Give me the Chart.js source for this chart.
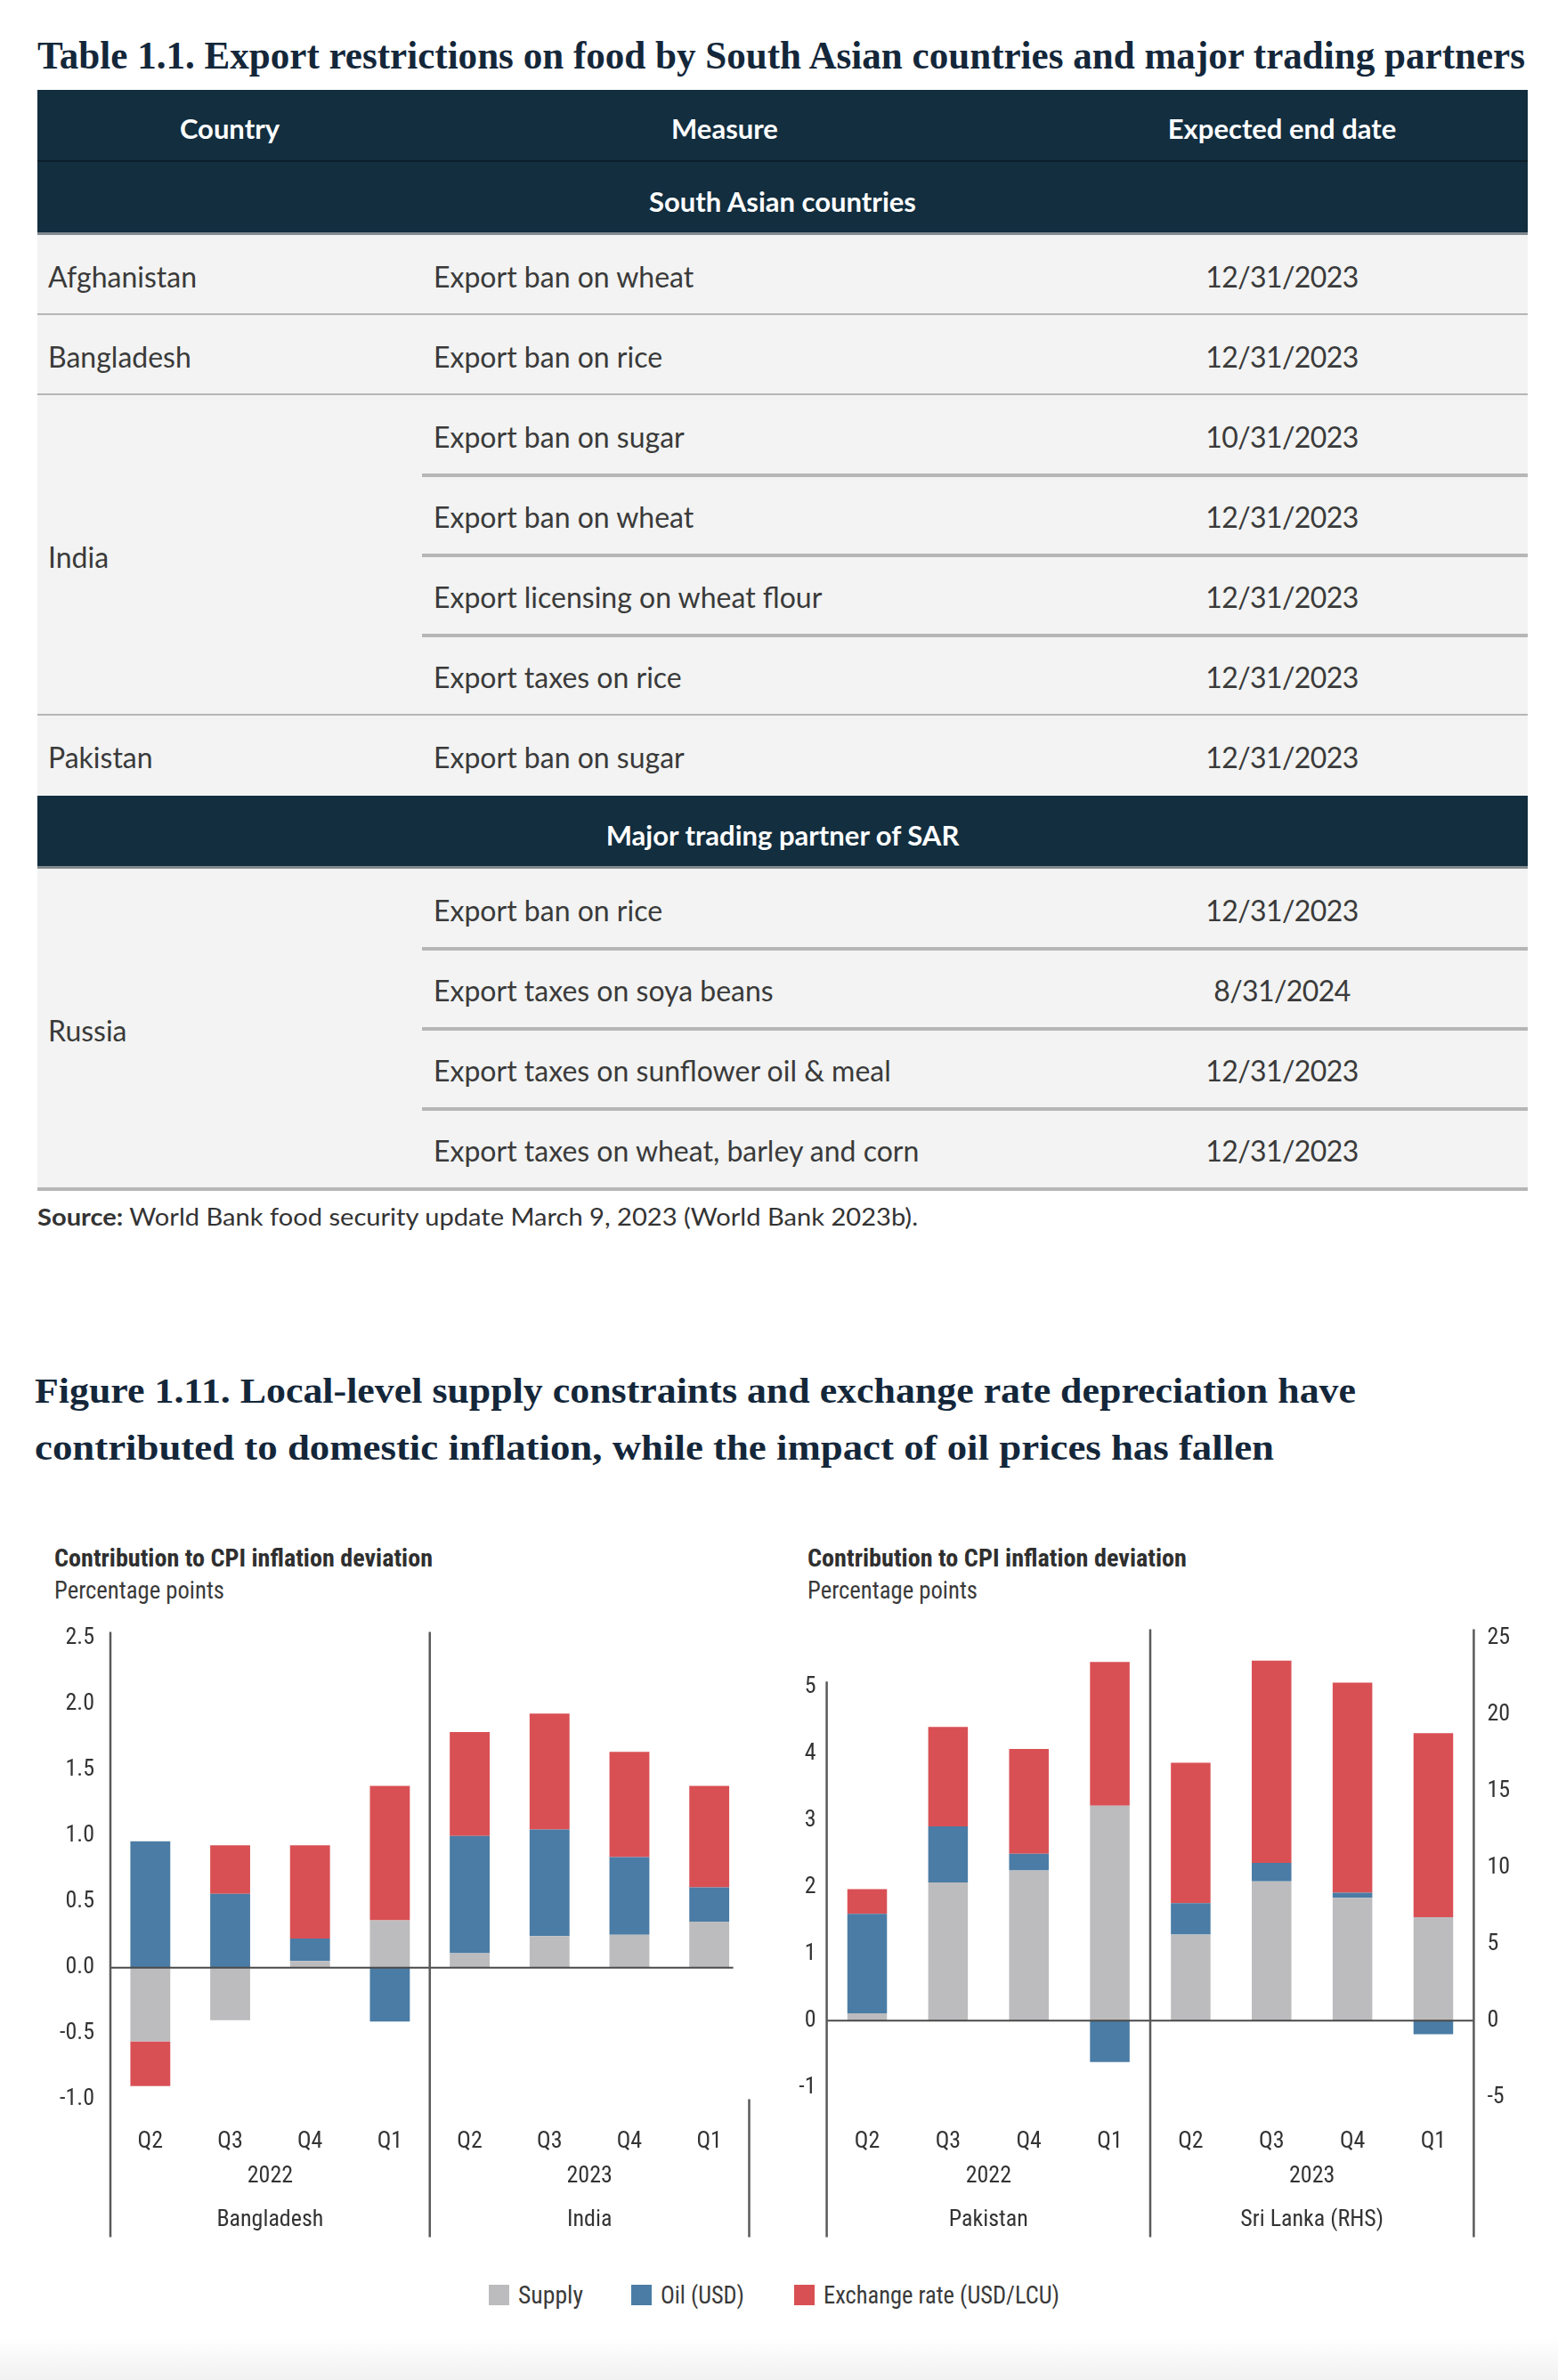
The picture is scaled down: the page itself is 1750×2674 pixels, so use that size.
<!DOCTYPE html>
<html>
<head>
<meta charset="utf-8">
<script src="https://cdn.jsdelivr.net/npm/chart.js@4.4.0/dist/chart.umd.min.js"></script>
<style>
  html, body { margin: 0; padding: 0; background: #fff; }
  body { width: 1750px; height: 2674px; position: relative; overflow: hidden; font-family: Lato, 'Noto Sans', sans-serif; color: #3a3a3a; }
  .abs { position: absolute; white-space: nowrap; }
  .fit { display: inline-block; transform-origin: 0 50%; }
  .serif { font-family: 'Liberation Serif', 'DejaVu Serif', serif; font-weight: 700; color: #14273a; line-height: 1; }
  .box { position: absolute; }
  .cell { position: absolute; white-space: nowrap; }
  .chart-title { font-weight: 700; color: #2f2f2f; line-height: 1; }
  .chart-sub { color: #3a3a3a; line-height: 1; }
  .legend-sq { position: absolute; width: 23px; height: 23px; }
  .bottom-fade { position: absolute; left: 0; top: 2626px; width: 1750px; height: 48px; background: linear-gradient(#ffffff, #f1f1f1); }
</style>
</head>
<body>
<div class="abs serif" id="tableTitle" style="left:42px; top:41px; font-size:44px;"><span class="fit" data-w="1671">Table 1.1. Export restrictions on food by South Asian countries and major trading partners</span></div>
<div id="table"></div>
<div class="abs" id="source" style="left:42px; top:1352px; font-size:27px; line-height:30px; color:#333;"><span class="fit" data-w="989"><b>Source:</b> World Bank food security update March 9, 2023 (World Bank 2023b).</span></div>

<div class="abs serif" style="left:39px; top:1543px; font-size:40px;"><span class="fit" data-w="1484">Figure 1.11. Local-level supply constraints and exchange rate depreciation have</span></div>
<div class="abs serif" style="left:39px; top:1607px; font-size:40px;"><span class="fit" data-w="1392">contributed to domestic inflation, while the impact of oil prices has fallen</span></div>

<div class="abs chart-title" id="t1" style="left:61px; top:1737px; font-size:28px;"><span class="fit" data-w="425">Contribution to CPI inflation deviation</span></div>
<div class="abs chart-sub" id="s1" style="left:61px; top:1774px; font-size:27px;"><span class="fit" data-w="191">Percentage points</span></div>
<div class="abs chart-title" id="t2" style="left:907px; top:1737px; font-size:28px;"><span class="fit" data-w="426">Contribution to CPI inflation deviation</span></div>
<div class="abs chart-sub" id="s2" style="left:907px; top:1774px; font-size:27px;"><span class="fit" data-w="191">Percentage points</span></div>

<canvas id="leftChart" style="position:absolute; left:0; top:1800px;"></canvas>
<canvas id="rightChart" style="position:absolute; left:875px; top:1800px;"></canvas>

<div id="legend"></div>
<div class="bottom-fade"></div>

<script>
// ---- table content ----
const tableColumns = ['Country', 'Measure', 'Expected end date'];
const southAsiaBand = 'South Asian countries';
const partnerBand = 'Major trading partner of SAR';
const southAsiaRows = [
  ['Afghanistan', 'Export ban on wheat', '12/31/2023'],
  ['Bangladesh', 'Export ban on rice', '12/31/2023'],
  ['India', 'Export ban on sugar', '10/31/2023'],
  ['India', 'Export ban on wheat', '12/31/2023'],
  ['India', 'Export licensing on wheat flour', '12/31/2023'],
  ['India', 'Export taxes on rice', '12/31/2023'],
  ['Pakistan', 'Export ban on sugar', '12/31/2023']
];
const partnerRows = [
  ['Russia', 'Export ban on rice', '12/31/2023'],
  ['Russia', 'Export taxes on soya beans', '8/31/2024'],
  ['Russia', 'Export taxes on sunflower oil & meal', '12/31/2023'],
  ['Russia', 'Export taxes on wheat, barley and corn', '12/31/2023']
];

// ---- chart data ----
const quarters = ['Q2', 'Q3', 'Q4', 'Q1', 'Q2', 'Q3', 'Q4', 'Q1'];
const years = ['2022', '2023'];
const leftCountries = ['Bangladesh', 'India'];
const rightCountries = ['Pakistan', 'Sri Lanka (RHS)'];
const seriesNames = ['Supply', 'Oil (USD)', 'Exchange rate (USD/LCU)'];
const seriesColors = ['#bcbcbe', '#4a7ca5', '#d95054'];

// Bangladesh (first 4) and India (last 4), percentage points
const supplyBI = [-0.56, -0.40, 0.05, 0.36, 0.11, 0.24, 0.25, 0.35];
const oilBI    = [0.96, 0.56, 0.17, -0.41, 0.89, 0.81, 0.59, 0.26];
const fxBI     = [-0.34, 0.37, 0.71, 1.02, 0.79, 0.88, 0.80, 0.77];

// Pakistan, left axis
const supplyPK = [0.11, 2.07, 2.25, 3.22];
const oilPK    = [1.49, 0.84, 0.25, -0.62];
const fxPK     = [0.37, 1.49, 1.57, 2.15];

// Sri Lanka, right axis
const supplySL = [5.63, 9.11, 8.03, 6.77];
const oilSL    = [2.06, 1.20, 0.34, -0.89];
const fxSL     = [9.17, 13.23, 13.72, 12.03];

// ---- fonts ----
function hasFont(name) {
  const c = document.createElement('canvas').getContext('2d');
  const s = 'mmmmmmmmmmlliWQ0123456789';
  let diff = false;
  ['monospace', 'serif'].forEach(fb => {
    c.font = '40px ' + fb;
    const a = c.measureText(s).width;
    c.font = "40px '" + name + "', " + fb;
    if (Math.abs(c.measureText(s).width - a) > 0.5) diff = true;
  });
  return diff;
}
const narrowCandidates = ['Roboto Condensed', 'Liberation Sans Narrow', 'DejaVu Sans Condensed'];
const found = narrowCandidates.filter(hasFont);
const narrow = found.length ? "'" + found[0] + "'" : 'Roboto';
const tickSize = found.length ? 26 : 22;

['t1', 's1', 't2', 's2'].forEach(id => {
  document.getElementById(id).style.fontFamily = narrow + ', Roboto, sans-serif';
});

// ---- table ----
function buildTable() {
  const host = document.getElementById('table');
  const L = 42, R = 1716, measX = 474, dateC = 1440;
  const navy = '#122e3f', rowBg = '#f2f3f2', sepColor = '#b6b6b6';
  const bodyFont = 32, headFont = 31;

  function box(x, y, w, h, color) {
    const d = document.createElement('div');
    d.className = 'box';
    d.style.cssText = `left:${x}px;top:${y}px;width:${w}px;height:${h}px;background:${color};`;
    host.appendChild(d);
  }
  function text(str, x, y, h, opts) {
    const d = document.createElement('div');
    d.className = 'cell';
    d.textContent = str;
    const size = opts.size || bodyFont;
    let css = `top:${y}px;height:${h}px;line-height:${h}px;font-size:${size}px;color:${opts.color || '#3a3a3a'};`;
    if (opts.bold) css += 'font-weight:700;';
    if (opts.tight) css += 'letter-spacing:-0.6px;';
    if (opts.center) css += `left:${x - 400}px;width:800px;text-align:center;`;
    else css += `left:${x}px;`;
    d.style.cssText = css;
    host.appendChild(d);
  }

  // header
  box(L, 101, R - L, 80, navy);
  text(tableColumns[0], 258, 104, 80, { center: true, bold: true, color: '#fff', size: headFont });
  text(tableColumns[1], 814, 104, 80, { center: true, bold: true, color: '#fff', size: headFont });
  text(tableColumns[2], dateC, 104, 80, { center: true, bold: true, color: '#fff', size: headFont });
  box(L, 180, R - L, 2, '#0b1e29');

  let y = 182;
  function band(label, h) {
    box(L, y, R - L, h, navy);
    text(label, (L + R) / 2, y + 3, h, { center: true, bold: true, color: '#fff', size: headFont });
    box(L, y + h - 3, R - L, 3, '#7f898e');
    y += h;
  }
  function rows(list, tableEnd) {
    let i = 0;
    while (i < list.length) {
      let j = i;
      while (j < list.length && list[j][0] === list[i][0]) j++;
      const n = j - i, top = y;
      box(L, top, R - L, n * 90, rowBg);
      text(list[i][0], L + 12, top + 2, n * 90, {});
      for (let k = i; k < j; k++) {
        const ry = top + (k - i) * 90;
        text(list[k][1], 487, ry + 2, 90, {});
        text(list[k][2], dateC, ry + 2, 90, { center: true, tight: true });
        const lastInGroup = k === j - 1;
        if (!lastInGroup) box(measX, ry + 88, R - measX, 4, sepColor);
        else if (j < list.length || tableEnd) box(L, ry + 88, R - L, 4, sepColor);
      }
      y = top + n * 90;
      i = j;
    }
  }
  band(southAsiaBand, 82);
  rows(southAsiaRows, false);
  band(partnerBand, 82);
  rows(partnerRows, true);
}
buildTable();

// ---- legend ----
function buildLegend() {
  const host = document.getElementById('legend');
  const sqX = [549, 709, 892];
  const txtW = [73, 94, 265];
  seriesNames.forEach((name, i) => {
    const sq = document.createElement('div');
    sq.className = 'legend-sq';
    sq.style.left = sqX[i] + 'px';
    sq.style.top = '2567px';
    sq.style.background = seriesColors[i];
    host.appendChild(sq);
    const t = document.createElement('div');
    t.className = 'abs';
    t.style.cssText = `left:${sqX[i] + 33}px;top:2564px;font-size:27px;line-height:30px;color:#3a3a3a;font-family:${narrow}, Roboto, sans-serif;`;
    t.innerHTML = `<span class="fit" data-w="${txtW[i]}"></span>`;
    t.firstChild.textContent = name;
    host.appendChild(t);
  });
}
buildLegend();

// fit text widths to the reference
document.querySelectorAll('.fit').forEach(el => {
  const target = parseFloat(el.dataset.w);
  const w = el.getBoundingClientRect().width;
  if (w > 0) el.style.transform = `scaleX(${target / w})`;
});

// ---- charts ----
Chart.defaults.font.family = narrow + ', Roboto, sans-serif';
Chart.defaults.font.size = tickSize;
Chart.defaults.color = '#333';

const decor = {
  id: 'decor',
  afterDatasetsDraw(chart, args, opts) {
    const { ctx, chartArea, scales } = chart;
    const x = scales.x;
    ctx.save();
    // zero line
    const yz = scales.y.getPixelForValue(0);
    const zEnd = opts.zeroEnd !== undefined ? x.getPixelForValue(opts.zeroEnd) : chartArea.right;
    ctx.strokeStyle = '#4a4a4a';
    ctx.lineWidth = 2;
    ctx.beginPath();
    ctx.moveTo(chartArea.left, yz);
    ctx.lineTo(zEnd, yz);
    ctx.stroke();
    // group separators
    ctx.strokeStyle = '#5a5a5a';
    ctx.lineWidth = 2.5;
    opts.separators.forEach(s => {
      const px = x.getPixelForValue(s.at - 0.5);
      let top = chartArea.top;
      if (s.from === 'bottom') top = chartArea.bottom;
      else if (typeof s.from === 'number') top = scales.y.getPixelForValue(s.from);
      ctx.beginPath();
      ctx.moveTo(px, top);
      ctx.lineTo(px, chartArea.bottom + 155);
      ctx.stroke();
    });
    // year and country labels under each group
    ctx.fillStyle = '#333';
    ctx.font = `${tickSize}px ${narrow}, Roboto, sans-serif`;
    ctx.textAlign = 'center';
    ctx.textBaseline = 'middle';
    opts.groups.forEach((name, g) => {
      const cx = (x.getPixelForValue(g * 4) + x.getPixelForValue(g * 4 + 3)) / 2;
      ctx.fillText(years[g], cx, chartArea.bottom + 87);
      ctx.fillText(name, cx, chartArea.bottom + 136);
    });
    ctx.restore();
  }
};

function setSize(canvas) {
  canvas.width = 875;
  canvas.height = 760;
  canvas.style.width = '875px';
  canvas.style.height = '760px';
}

const xAxis = {
  stacked: true,
  offset: true,
  grid: { display: false, drawTicks: false },
  border: { display: false },
  ticks: { padding: 32, color: '#333', maxRotation: 0, autoSkip: false },
  afterFit: s => { s.height = 201.5; }
};

const leftCanvas = document.getElementById('leftChart');
setSize(leftCanvas);
new Chart(leftCanvas, {
  type: 'bar',
  data: {
    labels: quarters,
    datasets: [supplyBI, oilBI, fxBI].map((d, i) => ({
      label: seriesNames[i], data: d, backgroundColor: seriesColors[i],
      categoryPercentage: 0.5, barPercentage: 1.0, borderWidth: 0
    }))
  },
  options: {
    responsive: false,
    animation: false,
    layout: { padding: { top: 29.5, right: 33.5, left: 0, bottom: 0 } },
    plugins: {
      legend: { display: false },
      tooltip: { enabled: false },
      decor: {
        zeroEnd: 7.3,
        separators: [{ at: 0, from: 'top' }, { at: 4, from: 'top' }, { at: 8, from: 'bottom' }],
        groups: leftCountries
      }
    },
    scales: {
      x: xAxis,
      y: {
        stacked: true,
        min: -1, max: 2.55,
        grid: { display: false, drawTicks: false },
        border: { display: false },
        ticks: { stepSize: 0.5, includeBounds: false, padding: 18, color: '#333', callback: v => v.toFixed(1) },
        afterFit: s => { s.width = 124; }
      }
    }
  },
  plugins: [decor]
});

const rightCanvas = document.getElementById('rightChart');
setSize(rightCanvas);
const blank = [null, null, null, null];
new Chart(rightCanvas, {
  type: 'bar',
  data: {
    labels: quarters,
    datasets: [
      ...[supplyPK, oilPK, fxPK].map((d, i) => ({
        label: seriesNames[i] + ' (Pakistan)', data: d.concat(blank), backgroundColor: seriesColors[i],
        yAxisID: 'y', categoryPercentage: 0.49, barPercentage: 1.0, borderWidth: 0
      })),
      ...[supplySL, oilSL, fxSL].map((d, i) => ({
        label: seriesNames[i] + ' (Sri Lanka)', data: blank.concat(d), backgroundColor: seriesColors[i],
        yAxisID: 'y1', categoryPercentage: 0.49, barPercentage: 1.0, borderWidth: 0
      }))
    ]
  },
  options: {
    responsive: false,
    animation: false,
    layout: { padding: { top: 16.5, right: 0, left: 0, bottom: 0 } },
    plugins: {
      legend: { display: false },
      tooltip: { enabled: false },
      decor: {
        separators: [{ at: 0, from: 5.08 }, { at: 4, from: 'top' }, { at: 8, from: 'top' }],
        groups: rightCountries
      }
    },
    scales: {
      x: xAxis,
      y: {
        stacked: true,
        position: 'left',
        min: -1.175, max: 5.86,
        grid: { display: false, drawTicks: false },
        border: { display: false },
        ticks: { stepSize: 1, includeBounds: false, padding: 12, color: '#333' },
        afterFit: s => { s.width = 53.6; }
      },
      y1: {
        stacked: true,
        position: 'right',
        min: -5.13, max: 25.58,
        grid: { display: false, drawTicks: false },
        border: { display: false },
        ticks: { stepSize: 5, includeBounds: false, padding: 15, color: '#333' },
        afterFit: s => { s.width = 94.6; }
      }
    }
  },
  plugins: [decor]
});
</script>
</body>
</html>
